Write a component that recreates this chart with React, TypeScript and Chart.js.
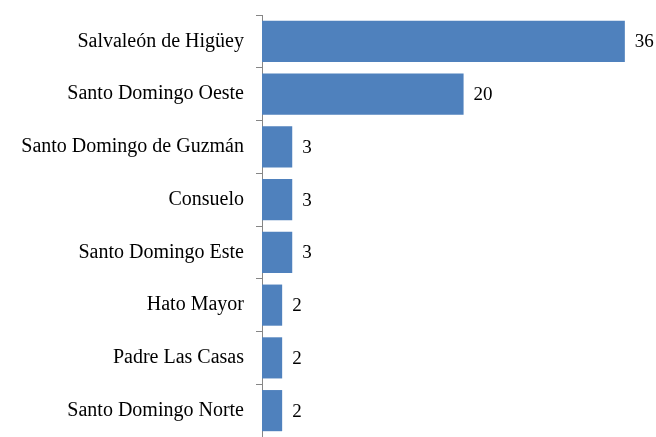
import React, { useEffect, useRef } from "react";
import { Chart, registerables } from "chart.js";

Chart.register(...registerables);

const categories = [
  "Salvaleón de Higüey",
  "Santo Domingo Oeste",
  "Santo Domingo de Guzmán",
  "Consuelo",
  "Santo Domingo Este",
  "Hato Mayor",
  "Padre Las Casas",
  "Santo Domingo Norte",
];
const values = [36, 20, 3, 3, 3, 2, 2, 2];
const xMax = 38;

const FONT = "'Liberation Serif', 'Times New Roman', serif";

const valueLabels = {
  id: "valueLabels",
  afterDatasetsDraw(chart: any) {
    const ctx = chart.ctx;
    const meta = chart.getDatasetMeta(0);
    ctx.save();
    ctx.font = `19px ${FONT}`;
    ctx.fillStyle = "#000000";
    ctx.textAlign = "left";
    ctx.textBaseline = "middle";
    meta.data.forEach((bar: any, i: number) => {
      ctx.fillText(String(values[i]), bar.x + 10, bar.y + 1);
    });
    ctx.restore();
  },
};

export default function App() {
  const ref = useRef<HTMLCanvasElement | null>(null);
  useEffect(() => {
    if (!ref.current) return;
    const chart = new Chart(ref.current, {
      type: "bar",
      data: {
        labels: categories,
        datasets: [
          {
            data: values,
            backgroundColor: "#4F81BD",
            borderWidth: 0,
            barPercentage: 0.78,
            categoryPercentage: 1,
          },
        ],
      },
      options: {
        indexAxis: "y",
        animation: false,
        responsive: true,
        maintainAspectRatio: false,
        layout: { padding: { top: 15, right: 11, bottom: 0, left: 0 } },
        plugins: {
          legend: { display: false },
          tooltip: { enabled: false },
        },
        scales: {
          x: {
            display: false,
            min: 0,
            max: xMax,
          },
          y: {
            afterFit: (s: any) => {
              s.width = 262;
              s.paddingTop = 0;
              s.paddingBottom = 0;
            },
            border: { display: true, color: "#868686", width: 1 },
            grid: {
              drawOnChartArea: false,
              drawTicks: true,
              tickLength: 6,
              color: "#868686",
              offset: true,
            },
            ticks: {
              padding: 12,
              color: "#000000",
              font: { family: FONT, size: 20 },
            },
          },
        },
      },
      plugins: [valueLabels],
    });
    return () => chart.destroy();
  }, []);
  return (
    <div style={{ position: "fixed", left: 0, top: 0, width: 656, height: 437 }}>
      <canvas ref={ref} />
    </div>
  );
}
